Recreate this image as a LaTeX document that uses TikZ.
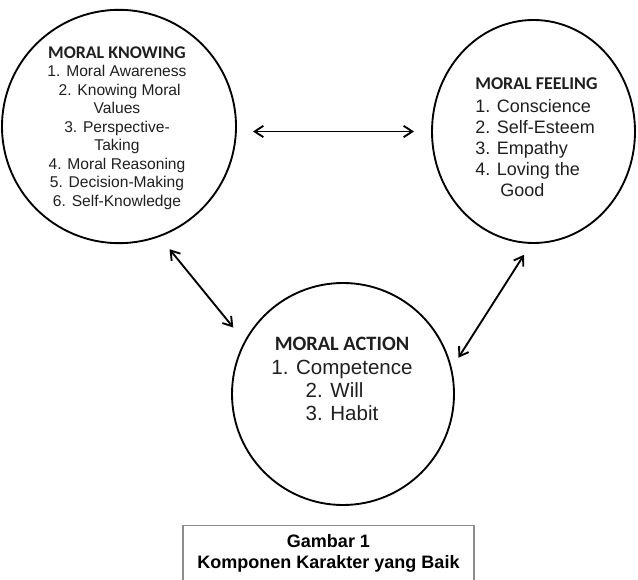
\documentclass[tikz,border=0pt]{standalone}
\usepackage{fontspec}
\setmainfont{Liberation Sans}
\newfontfamily\headfont{Carlito}
\usetikzlibrary{arrows.meta,shapes.geometric}
\begin{document}
\begin{tikzpicture}[x=0.75pt,y=-0.75pt,
  ring/.style={draw, line width=1.4pt, ellipse, inner sep=0pt, outer sep=0pt},
  dbl/.style={{Straight Barb[length=6.5pt,width=8.5pt]}-{Straight Barb[length=6.5pt,width=8.5pt]}, line width=1.4pt},
  txt/.style={inner sep=0pt, text=black!88},
  captionbox/.style={draw=black!45, line width=0.8pt, minimum width=218.25pt, inner ysep=7pt, align=center, anchor=north, font=\bfseries\fontsize{13.5}{15.75}\selectfont}
]
\useasboundingbox (0,0) rectangle (638,580);

% circles
\node[ring, minimum width=175.5pt, minimum height=175pt] (kn) at (119,126.5) {};
\node[ring, minimum width=152.25pt, minimum height=167.25pt] (fe) at (533.5,131.5) {};
\node[ring, minimum width=166.5pt, minimum height=166.5pt] (ac) at (343,394) {};

% texts
\node[txt, align=center, font=\fontsize{11.7}{13.9}\selectfont] (knt) at (117,128)
 {{\headfont\bfseries\fontsize{13.4}{13.9}\selectfont MORAL KNOWING}\\
  1. Moral Awareness\\
  \hspace*{4pt}2. Knowing Moral\\
  Values\\
  3. Perspective-\\
  Taking\\
  4. Moral Reasoning\\
  5. Decision-Making\\
  6. Self-Knowledge};

\node[txt, align=left, anchor=west, font=\fontsize{13.5}{15.75}\selectfont] (fet) at (475,137)
 {{\headfont\bfseries MORAL FEELING}\\[1.5pt]
  1. Conscience\\
  2. Self-Esteem\\
  3. Empathy\\
  4. Loving the\\
  \hspace*{18.75pt}Good};

\node[txt, align=center, font=\fontsize{15.4}{17.25}\selectfont] (act) at (342,379)
 {{\headfont\bfseries\fontsize{15.3}{17.25}\selectfont MORAL ACTION}\\[1pt]
  1. Competence\\
  \makebox[0pt][l]{2. Will}\phantom{3. Habit}\\
  3. Habit};

% connectors
\draw[dbl, shorten <=12.75pt, shorten >=13.5pt] (kn.east |- fe.west) -- (fe.west);
\draw[dbl, shorten <=12.6pt, shorten >=13.9pt] (kn.-70.9) -- (ac.152.2);
\draw[dbl, shorten <=10.5pt, shorten >=10pt] (fe.-91.5) -- (ac.13.5);

% caption
\node[captionbox] (caption) at (328.5,525) {Gambar 1\\Komponen Karakter yang Baik};
\end{tikzpicture}
\end{document}
